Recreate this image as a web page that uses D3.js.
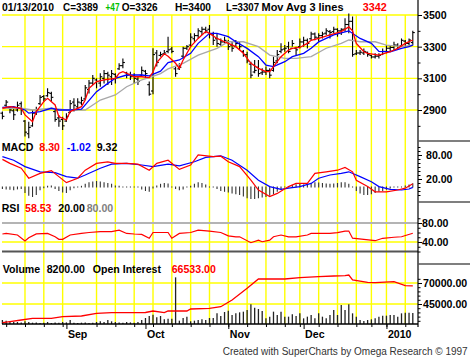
<!DOCTYPE html>
<html><head><meta charset="utf-8">
<script src="https://cdn.jsdelivr.net/npm/d3@7"></script>
<style>
body{margin:0;background:#fff;}
svg{display:block;font-family:"Liberation Sans",Arial,sans-serif;}
</style></head><body>
<svg id="c" width="470" height="360"></svg>
<script>
const dates = [
"2009-08-07","2009-08-10","2009-08-11","2009-08-12","2009-08-13","2009-08-14","2009-08-17","2009-08-18","2009-08-19","2009-08-20","2009-08-21","2009-08-24","2009-08-25","2009-08-26","2009-08-27","2009-08-28","2009-08-31",
"2009-09-01","2009-09-02","2009-09-03","2009-09-04","2009-09-08","2009-09-09","2009-09-10","2009-09-11","2009-09-14","2009-09-15","2009-09-16","2009-09-17","2009-09-18","2009-09-21","2009-09-22","2009-09-23","2009-09-24","2009-09-25","2009-09-28","2009-09-29","2009-09-30",
"2009-10-01","2009-10-02","2009-10-05","2009-10-06","2009-10-07","2009-10-08","2009-10-09","2009-10-12","2009-10-13","2009-10-14","2009-10-15","2009-10-16","2009-10-19","2009-10-20","2009-10-21","2009-10-22","2009-10-23","2009-10-26","2009-10-27","2009-10-28","2009-10-29","2009-10-30",
"2009-11-02","2009-11-03","2009-11-04","2009-11-05","2009-11-06","2009-11-09","2009-11-10","2009-11-11","2009-11-12","2009-11-13","2009-11-16","2009-11-17","2009-11-18","2009-11-19","2009-11-20","2009-11-23","2009-11-24","2009-11-25","2009-11-27","2009-11-30",
"2009-12-01","2009-12-02","2009-12-03","2009-12-04","2009-12-07","2009-12-08","2009-12-09","2009-12-10","2009-12-11","2009-12-14","2009-12-15","2009-12-16","2009-12-17","2009-12-18","2009-12-21","2009-12-22","2009-12-23","2009-12-24","2009-12-28","2009-12-29","2009-12-30","2009-12-31",
"2010-01-04","2010-01-05","2010-01-06","2010-01-07","2010-01-08","2010-01-11","2010-01-12","2010-01-13"];

const opens = [2880,2930,2915,2895,2900,2940,2830,2750,2800,2880,2940,2985,2990,3005,2890,2850,2840,
2830,2885,2950,2920,2945,2970,3030,3070,3090,3070,3100,3130,3110,3125,3160,3180,3135,3125,3115,3095,3120,
3145,3060,3020,3260,3245,3255,3270,3285,3160,3160,3240,3290,3310,3350,3370,3395,3410,3410,3380,3350,3315,3330,
3330,3310,3300,3320,3270,3250,3190,3140,3170,3135,3140,3150,3150,3210,3270,3285,3300,3290,3290,3300,
3330,3340,3350,3380,3355,3370,3385,3395,3395,3410,3400,3410,3440,3460,3255,3260,3260,3265,3245,3235,3240,3250,
3270,3290,3295,3310,3305,3335,3320,3326];
const highs = [2890,2963,2921,2910,2953,2953,2837,2826,2900,2921,2995,2995,3037,3016,2900,2869,2858,
2879,2963,2974,2974,2984,3058,3090,3121,3100,3132,3153,3142,3153,3132,3195,3226,3142,3142,3132,3110,3174,
3153,3080,3290,3279,3268,3279,3363,3300,3174,3195,3300,3310,3384,3384,3416,3426,3426,3437,3395,3384,3352,3363,
3342,3331,3342,3331,3279,3268,3205,3216,3216,3163,3174,3163,3237,3279,3321,3310,3331,3342,3300,3352,
3363,3352,3395,3390,3384,3395,3416,3405,3426,3416,3416,3480,3510,3490,3279,3279,3289,3268,3247,3258,3258,3289,
3310,3310,3331,3321,3352,3342,3352,3400];
const lows = [2841,2921,2879,2837,2890,2869,2732,2721,2795,2869,2932,2953,2984,2953,2826,2795,2774,
2826,2879,2890,2900,2932,2963,3005,3058,3037,3047,3068,3058,3058,3068,3153,3163,3100,3090,3068,3058,3110,
3100,2990,3000,3174,3237,3247,3258,3258,3110,3153,3226,3279,3300,3331,3352,3374,3384,3352,3310,3300,3300,3321,
3279,3268,3300,3279,3237,3195,3100,3132,3110,3121,3121,3100,3142,3195,3258,3268,3258,3300,3247,3289,
3300,3289,3342,3340,3331,3352,3374,3352,3384,3363,3374,3395,3384,3237,3247,3247,3247,3237,3226,3226,3226,3247,
3258,3268,3279,3289,3310,3300,3300,3307];
const closes = [2860,2950,2900,2870,2930,2900,2760,2790,2880,2900,2980,2970,3010,2980,2840,2830,2800,
2860,2940,2930,2950,2960,3040,3070,3100,3080,3110,3130,3120,3130,3110,3180,3200,3120,3110,3100,3080,3150,
3130,3000,3250,3200,3250,3260,3280,3270,3130,3170,3290,3300,3360,3370,3400,3410,3400,3380,3340,3320,3330,3340,
3300,3290,3320,3300,3250,3210,3120,3150,3130,3140,3150,3120,3200,3250,3280,3290,3270,3320,3280,3330,
3340,3320,3380,3360,3370,3380,3400,3390,3410,3400,3410,3440,3460,3250,3260,3265,3270,3250,3235,3240,3245,3270,
3290,3295,3310,3300,3340,3320,3342,3389];
const volumes = [3000,2500,2000,1500,1500,1200,2000,1500,1000,1200,800,1000,1500,800,1200,1000,1500,
1200,3000,1000,800,1000,1200,800,1000,1500,2000,1500,3000,2000,1500,1200,1000,1500,1200,1000,1500,3000,
4500,6000,7000,5000,6000,3500,4000,4000,35000,2500,4500,5500,2000,2500,3000,3500,3000,4500,4500,8000,6000,9000,
10000,6750,8000,8750,9250,10500,14750,12250,11250,9750,4250,5500,9250,6750,9250,5500,5500,7250,6000,8000,
4250,5500,6750,4250,8000,5500,4250,6750,10500,6750,14250,10500,14750,8000,5500,3000,2250,3000,3500,4250,5500,6250,
6250,6750,6750,5500,8000,8500,8500,8200];

// moving averages: [bar index, value]
const maFast = [[0,2911],[2,2921],[5,2911],[6,2869],[8,2826],[9,2890],[11,2953],[12,2974],[14,2932],[15,2858],[17,2837],[18,2890],[21,2921],[22,2963],[23,3037],[25,3079],[27,3090],[30,3100],[31,3132],[32,3142],[33,3132],[35,3110],[37,3110],[39,3105],[40,3140],[41,3200],[43,3255],[44,3240],[46,3195],[47,3163],[48,3216],[50,3300],[52,3352],[54,3395],[55,3384],[57,3352],[59,3331],[60,3321],[62,3300],[64,3258],[66,3195],[68,3163],[70,3142],[71,3142],[72,3174],[74,3237],[76,3279],[77,3289],[79,3295],[81,3321],[82,3340],[84,3352],[87,3374],[90,3395],[92,3425],[93,3400],[94,3321],[96,3268],[97,3258],[100,3247],[103,3268],[105,3289],[107,3321],[109,3342]];
const maMid = [[0,2917],[3,2921],[6,2900],[7,2880],[10,2890],[13,2911],[15,2900],[18,2900],[21,2905],[22,2932],[25,3016],[28,3068],[30,3100],[33,3121],[37,3121],[39,3115],[42,3145],[44,3200],[47,3216],[50,3258],[52,3321],[55,3384],[57,3384],[60,3363],[62,3331],[65,3289],[68,3237],[70,3184],[72,3174],[75,3205],[77,3237],[80,3258],[82,3290],[84,3330],[88,3374],[92,3400],[95,3352],[98,3321],[100,3270],[103,3268],[106,3289],[108,3300],[109,3310]];
const maSlow = [[0,2911],[5,2911],[8,2900],[13,2911],[17,2900],[22,2900],[26,2963],[30,2995],[33,3047],[37,3090],[39,3105],[42,3130],[44,3160],[48,3195],[52,3247],[57,3289],[60,3331],[64,3331],[68,3300],[71,3247],[75,3226],[78,3226],[82,3237],[86,3290],[90,3321],[92,3342],[95,3331],[99,3331],[102,3310],[106,3300],[109,3310]];

const macdLine = [[0,69],[2,59],[5,47],[7,22],[10,34],[13,41],[15,26],[17,11],[20,22],[22,42],[25,59],[28,63],[30,59],[33,59],[36,57],[39,42],[41,59],[44,67],[47,44],[50,55],[52,80],[56,76],[58,77],[60,63],[63,51],[66,17],[68,-7.5],[71,-24],[73,-16],[76,1],[78,9],[81,9],[83,34],[86,38],[89,42],[91,49],[93,38],[94,17],[97,1],[99,-12],[102,-12],[105,-7.5],[107,-3],[109,8.3]];
const signalLine = [[0,76],[3,67],[6,51],[10,38],[14,36],[17,26],[20,22],[22,30],[26,47],[29,57],[33,59],[37,55],[40,51],[44,57],[47,53],[51,63],[54,74],[58,78],[61,67],[65,42],[68,17],[71,1],[74,-6],[76,-3],[79,1],[82,9],[84,22],[87,30],[90,34],[92,38],[95,26],[98,13],[100,1],[103,-6],[106,-7.5],[108,-5],[109,-1]];
const macdHist = [-5,-6,-7,-8,-6,-5,-15,-22,-25,-20,-8,-3,3,4,-5,-10,-14,
-15,-8,-3,0,3,8,12,14,15,14,12,10,8,4,3,2,1,1,0,-2,-6,
-10,-12,-4,4,8,10,9,2,-5,-8,-6,-2,3,8,12,10,6,2,-2,-5,-10,-12,
-14,-16,-18,-20,-24,-28,-30,-30,-28,-26,-25,-22,-18,-12,-6,-2,2,5,7,8,
6,8,10,12,11,10,9,8,9,10,12,12,8,-2,-10,-16,-20,-20,-18,-15,-12,-10,
-7,-4,-2,0,2,4,6,9.32];

const rsiLine = [[0,56.8],[1,58],[4,54.7],[6,42],[7,49],[9,57],[12,58],[14,51],[15,45.7],[16,45.7],[18,54.7],[21,58],[23,60],[26,61.7],[29,61.7],[31,65],[33,58],[35,56.8],[37,56],[39,47.8],[40,60],[43,60],[44,60],[45,47.8],[47,58],[50,60],[52,65],[55,63],[58,60],[60,53],[62,51],[63,51],[66,38.5],[68,44],[69,40.6],[71,44],[72,51],[74,54.7],[76,51],[78,51],[81,54.7],[82,58],[87,58],[89,59.6],[91,63],[92,63],[93,48],[96,45.7],[99,42.7],[101,47.8],[104,50],[106,51],[109,58.53]];

const openInterest = [[0,22740],[2,23930],[5,25950],[8,27980],[13,27980],[16,29880],[21,30710],[25,33930],[29,34640],[35,34640],[38,34900],[40,36670],[43,34640],[44,36670],[49,36670],[50,39050],[55,39880],[58,41790],[61,49760],[65,63690],[68,74760],[75,74760],[79,76310],[84,77500],[88,78330],[91,78690],[92,79520],[93,73570],[97,70830],[99,70360],[104,71550],[107,66790],[109,66533]];

const priceTicks = [3500,3300,3100,2900];
const priceMinor = [3400,3200,3000,2800];
const macdTicks = [80,20];
const rsiTicks = [80,40];
const rsiLevels = [80,20];
const oiTicks = [70000,45000];
const monthLabels = ["Sep","Oct","Nov","Dec","2010"];

const header = [["01/13/2010","#000"],["C=3389","#000"],["+47","#00c000"],["O=3326","#000"],["H=3400","#000"],["L=3307","#000"],["Mov Avg 3 lines","#000"],["3342","#ff0000"]];
const headerX = [2,63,105.5,121.7,175,226,261.5,362.7];
const headerW = [52,35,14,36,36,33,82,24];
const macdHeader = [["MACD","#000"],["8.30","#ff0000"],["-1.02","#0000ff"],["9.32","#000"]];
const macdHeaderX = [1.7,39.3,66.7,96.7];
const rsiHeader = [["RSI","#000"],["58.53","#ff0000"],["20.00","#000"],["80.00","#808080"]];
const rsiHeaderX = [1.7,25,58.3,86.7];
const volHeader = [["Volume","#000"],["8200.00","#000"],["Open Interest","#000"],["66533.00","#ff0000"]];
const volHeaderX = [2.7,46.7,92.7,171.7];

const svg = d3.select("#c");
const L = 2, R = 418;
const parse = d3.timeParse("%Y-%m-%d");
const x = d3.scalePoint().domain(dates).range([2.4, 412.8]);
const yP = d3.scaleLinear().domain([2900,3500]).range([110,15]);
const yM = d3.scaleLinear().domain([20,80]).range([179,155]);
const yR = d3.scaleLinear().domain([40,80]).range([242,223]);
const yOI = d3.scaleLinear().domain([45000,70000]).range([304,283]);
const yV = d3.scaleLinear().domain([0,45000]).range([324,264]);
const YEL = "#ffff00";
const font = "bold 10.6px 'Liberation Sans', Arial, sans-serif";

// grid
const mondays = dates.filter(d => parse(d).getDay() === 1 && x(d) > 10);
const allMondays = dates.filter(d => parse(d).getDay() === 1);
const monthStarts = dates.filter((d,i) => i>0 && d.slice(5,7) !== dates[i-1].slice(5,7));

const grid = svg.append("g");
grid.selectAll(".vg").data(mondays).join("line")
  .attr("x1", d=>x(d)).attr("x2", d=>x(d)).attr("y1", yP(3500)).attr("y2", 324)
  .attr("stroke", YEL).attr("stroke-width", 1.4);
grid.selectAll(".hp").data(priceTicks).join("line")
  .attr("x1", L).attr("x2", R).attr("y1", d=>yP(d)).attr("y2", d=>yP(d))
  .attr("stroke", YEL).attr("stroke-width", 1.4);
grid.append("line").attr("x1",L).attr("x2",R).attr("y1",yR(40)).attr("y2",yR(40)).attr("stroke",YEL).attr("stroke-width",1.4);
grid.selectAll(".ho").data(oiTicks).join("line")
  .attr("x1", L).attr("x2", R).attr("y1", d=>yOI(d)).attr("y2", d=>yOI(d))
  .attr("stroke", YEL).attr("stroke-width", 1.4);
// RSI level lines
svg.append("line").attr("x1",L).attr("x2",R).attr("y1",yR(rsiLevels[0])).attr("y2",yR(rsiLevels[0])).attr("stroke","#b4b4b4").attr("stroke-width",2);
svg.append("line").attr("x1",L).attr("x2",R).attr("y1",yR(rsiLevels[1])).attr("y2",yR(rsiLevels[1])).attr("stroke","#555").attr("stroke-width",2);

// price bars
const bars = dates.map((d,i)=>({d, o:opens[i], h:highs[i], l:lows[i], c:closes[i], v:volumes[i], mh:macdHist[i]}));
const pb = svg.append("g").attr("stroke","#000").attr("stroke-width",1.1);
pb.selectAll(".hl").data(bars).join("line")
  .attr("x1",b=>x(b.d)).attr("x2",b=>x(b.d)).attr("y1",b=>yP(b.h)).attr("y2",b=>yP(b.l));
pb.selectAll(".op").data(bars).join("line")
  .attr("x1",b=>x(b.d)-2).attr("x2",b=>x(b.d)).attr("y1",b=>yP(b.o)).attr("y2",b=>yP(b.o));
pb.selectAll(".cl").data(bars).join("line")
  .attr("x1",b=>x(b.d)).attr("x2",b=>x(b.d)+2).attr("y1",b=>yP(b.c)).attr("y2",b=>yP(b.c));

function pathOf(arr, ys){
  return d3.line().x(p=>x(dates[p[0]])).y(p=>ys(p[1]))(arr);
}
[[maSlow,"#a8a8a8"],[maMid,"#0000ff"],[maFast,"#ff0000"]].forEach(([a,c])=>{
  svg.append("path").attr("d",pathOf(a,yP)).attr("fill","none").attr("stroke",c).attr("stroke-width",1.3);
});

// MACD
svg.append("g").attr("stroke","#333").attr("stroke-width",1.1).selectAll("line").data(bars).join("line")
  .attr("x1",b=>x(b.d)).attr("x2",b=>x(b.d))
  .attr("y1",b=>yM(0) + (b.mh>=0?0.5:-0.5))
  .attr("y2",b=>{const y=yM(b.mh); return Math.abs(y-yM(0))<1 ? yM(0)+(b.mh>=0?-0.5:0.5) : y;});
svg.append("path").attr("d",pathOf(signalLine,yM)).attr("fill","none").attr("stroke","#0000ff").attr("stroke-width",1.2);
svg.append("path").attr("d",pathOf(macdLine,yM)).attr("fill","none").attr("stroke","#ff0000").attr("stroke-width",1.2);

// RSI
svg.append("path").attr("d",pathOf(rsiLine,yR)).attr("fill","none").attr("stroke","#ff0000").attr("stroke-width",1.2);

// Volume
svg.append("g").attr("stroke","#222").attr("stroke-width",1.3).selectAll("line").data(bars).join("line")
  .attr("x1",b=>x(b.d)).attr("x2",b=>x(b.d)).attr("y1",yV(0)).attr("y2",b=>yV(b.v));
svg.append("path").attr("d",pathOf(openInterest,yOI)).attr("fill","none").attr("stroke","#ff0000").attr("stroke-width",1.3);

// right axes
function rAxis(scale, major, fmt, pad, minor){
  const g = svg.append("g").attr("transform",`translate(${R},0)`);
  g.call(d3.axisRight(scale).tickValues(major).tickSize(4).tickPadding(pad).tickFormat(fmt));
  g.select(".domain").remove();
  g.selectAll("text").style("font",font).attr("fill","#000");
  g.selectAll("line").attr("stroke","#000");
  if(minor){
    const m = svg.append("g").attr("transform",`translate(${R},0)`);
    m.call(d3.axisRight(scale).tickValues(minor).tickSize(2.5).tickFormat(""));
    m.select(".domain").remove();
    m.selectAll("line").attr("stroke","#000");
  }
}
rAxis(yP, priceTicks, d3.format("d"), 1, priceMinor);
rAxis(yM, macdTicks, d3.format(".2f"), 4, d3.range(-20,101,10).filter(v=>v!==80&&v!==20));
rAxis(yR, rsiTicks, d3.format(".2f"), 0, d3.range(20,91,10).filter(v=>v!==80&&v!==40));
rAxis(yOI, oiTicks, d3.format(".2f"), 1, [75000,65000,60000,55000,50000,40000,35000,30000,25000]);

svg.append("line").attr("x1",R).attr("x2",R).attr("y1",0).attr("y2",327).attr("stroke","#000").attr("stroke-width",1.2);
[141,202,264].forEach(y=>svg.append("line").attr("x1",R).attr("x2",470).attr("y1",y).attr("y2",y).attr("stroke","#555").attr("stroke-width",1.5));

// bottom axis
svg.append("line").attr("x1",L).attr("x2",R).attr("y1",324).attr("y2",324).attr("stroke","#000").attr("stroke-width",1.5);
const bx = svg.append("g").attr("transform","translate(0,324)");
bx.call(d3.axisBottom(x).tickValues(allMondays).tickSize(3).tickFormat(""));
bx.select(".domain").remove();
const bm = svg.append("g").attr("transform","translate(0,324)");
bm.call(d3.axisBottom(x).tickValues(monthStarts).tickSize(5).tickFormat(""));
bm.select(".domain").remove();
svg.selectAll(".ml").data(monthStarts).join("text")
  .attr("x",d=>x(d)+1.5).attr("y",337.7).style("font",font).attr("fill","#000")
  .text((d,i)=>monthLabels[i]);

// headers
function hdr(items, xs, y, ws){
  items.forEach(([t,c],i)=>{
    const tx = svg.append("text").attr("x",xs[i]).attr("y",y).style("font",font).attr("fill",c).text(t);
    if(ws) tx.attr("textLength",ws[i]).attr("lengthAdjust","spacingAndGlyphs");
  });
}
hdr(header, headerX, 10.7, headerW);
hdr(macdHeader, macdHeaderX, 150.7);
hdr(rsiHeader, rsiHeaderX, 212.3);
hdr(volHeader, volHeaderX, 273.3);

svg.append("text").attr("x",222.7).attr("y",354.5).attr("textLength",245).attr("lengthAdjust","spacingAndGlyphs")
  .style("font","10px 'Liberation Sans', Arial, sans-serif").attr("fill","#333")
  .text("Created with SuperCharts by Omega Research \u00A9 1997");
</script>
</body></html>
